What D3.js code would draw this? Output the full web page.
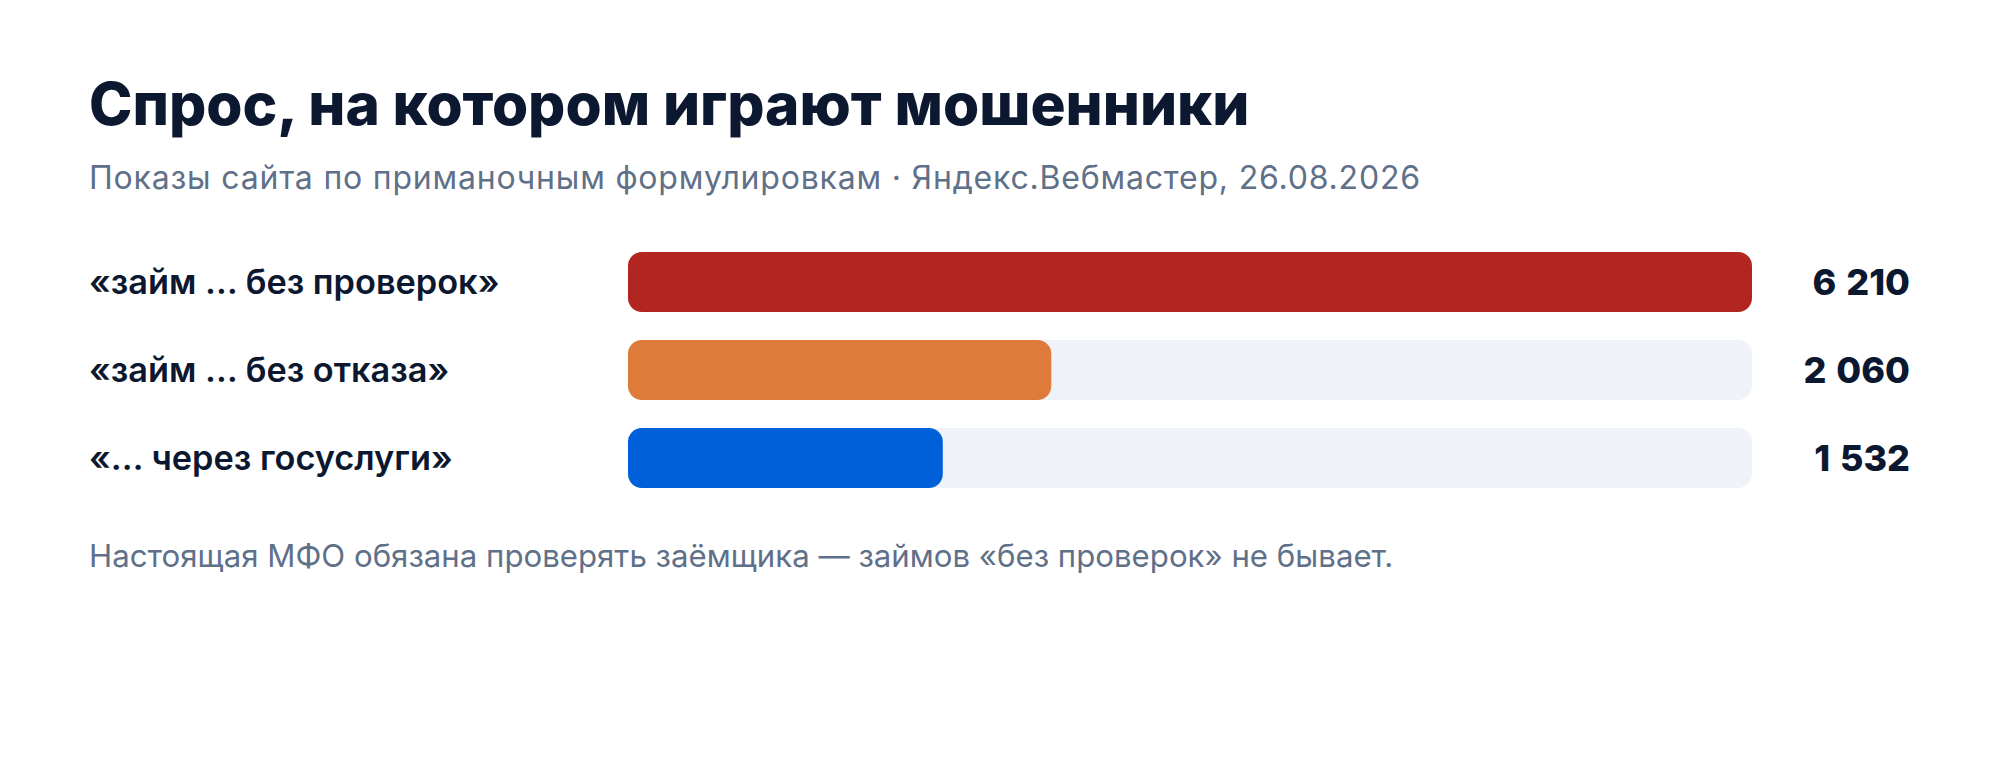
<!DOCTYPE html>
<html>
<head>
<meta charset="utf-8">
<script src="https://cdn.jsdelivr.net/npm/d3@7"></script>
<style>
  body { margin: 0; background: #fff; }
  svg { display: block; font-family: Inter, "Noto Sans", sans-serif; }
</style>
</head>
<body>
<svg id="canvas"></svg>
<script>
// данные
let phrases = ['«займ … без проверок»', '«займ … без отказа»', '«… через госуслуги»']
let shows = [6210, 2060, 1532]
let colors = ['#b22520', '#de7a3a', '#0060d9']

let title = 'Спрос, на котором играют мошенники'
let subtitle = 'Показы сайта по приманочным формулировкам · Яндекс.Вебмастер, 26.08.2026'
let note = 'Настоящая МФО обязана проверять заёмщика — займов «без проверок» не бывает.'

//dimensions
let width = 2000
let height = 760
let left = 89
let barLeft = 628
let barRight = 1752
let valueRight = 1910

let canvas = d3.select('#canvas')
                .attr('width', width)
                .attr('height', height)

// первая полоса упирается в край дорожки
let xScale = d3.scaleLinear()
                .domain([0, 5470])
                .range([0, barRight - barLeft])
                .clamp(true)

let yScale = d3.scaleBand()
                .domain(phrases)
                .range([252 - 14, 252 + 88 * 3 - 14])
                .paddingInner(28 / 88)
                .paddingOuter(14 / 88)

let fmt = (v) => d3.format(',')(v).replace(/,/g, ' ')

canvas.append('text')
        .attr('x', left)
        .attr('y', 125)
        .attr('fill', '#0b1830')
        .style('font-size', '58.5px')
        .style('font-weight', 800)
        .text(title)

canvas.append('text')
        .attr('x', left)
        .attr('y', 189)
        .attr('fill', '#5f7089')
        .style('font-size', '32px')
        .style('letter-spacing', '0.8px')
        .text(subtitle)

let rows = canvas.selectAll('g.row')
                .data(phrases)
                .enter()
                .append('g')
                .attr('class', 'row')
                .attr('transform', (d) => 'translate(0,' + yScale(d) + ')')

let bh = yScale.bandwidth()

rows.append('rect')
        .attr('x', barLeft)
        .attr('width', barRight - barLeft)
        .attr('height', bh)
        .attr('rx', 14)
        .attr('fill', '#eff3f8')

rows.append('rect')
        .attr('x', barLeft)
        .attr('width', (d, i) => xScale(shows[i]))
        .attr('height', bh)
        .attr('rx', 14)
        .attr('fill', (d, i) => colors[i])

rows.append('text')
        .attr('x', left)
        .attr('y', bh / 2 + 12)
        .attr('fill', '#0b1830')
        .style('font-size', '34.3px')
        .style('font-weight', 600)
        .text((d) => d)

rows.append('text')
        .attr('x', valueRight)
        .attr('y', bh / 2 + 13)
        .attr('text-anchor', 'end')
        .attr('fill', '#0b1830')
        .style('font-size', '36px')
        .style('font-weight', 800)
        .style('word-spacing', '2px')
        .text((d, i) => fmt(shows[i]))

canvas.append('text')
        .attr('x', left)
        .attr('y', 567)
        .attr('fill', '#5f7089')
        .style('font-size', '31.2px')
        .text(note)
</script>
</body>
</html>
